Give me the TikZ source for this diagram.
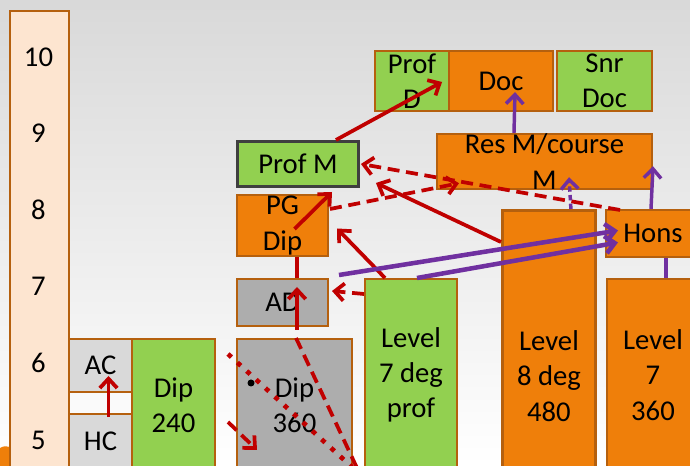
\documentclass[tikz,border=0pt]{standalone}
\usepackage{fontspec}
\setmainfont{Carlito}
\usepackage{xcolor}
\usetikzlibrary{arrows.meta,calc}
\definecolor{boxedge}{HTML}{B5600E}
\definecolor{boxorange}{HTML}{EF7F0A}
\definecolor{boxgreen}{HTML}{92D050}
\definecolor{boxgrey}{HTML}{ADADAD}
\definecolor{boxlight}{HTML}{D9D9D9}
\definecolor{boxpeach}{HTML}{FDE5D0}
\definecolor{darkedge}{HTML}{3F3F3F}
\definecolor{arrowred}{HTML}{C00000}
\definecolor{arrowpurple}{HTML}{7030A0}
\tikzset{
    box-text/.style = {inner sep=0pt, align=center, font=\fontsize{21.5}{26.5}\selectfont},
    base-box/.style = {box-text, draw=boxedge, line width=1.5pt, rectangle, anchor=north west},
    box-size/.style 2 args = {minimum width=#1*0.75pt, minimum height=#2*0.75pt},
    orange-box/.style = {base-box, fill=boxorange},
    green-box/.style = {base-box, fill=boxgreen},
    grey-box/.style = {base-box, fill=boxgrey},
    light-box/.style = {base-box, fill=boxlight},
    peach-box/.style = {base-box, fill=boxpeach},
    red-line/.style = {draw=arrowred, line width=2.8pt},
    red-arrow/.style = {red-line, -{Straight Barb[length=7pt,width=13pt]}},
    red-dash/.style = {red-line, dash pattern=on 9pt off 5pt},
    red-dash-arrow/.style = {red-dash, -{Straight Barb[length=7pt,width=13pt]}},
    red-dot/.style = {draw=arrowred, line width=3.5pt, dash pattern=on 3.5pt off 6pt},
    purple-line/.style = {draw=arrowpurple, line width=2.6pt},
    purple-arrow/.style = {purple-line, -{Straight Barb[length=7pt,width=13pt]}},
    purple-dash-arrow/.style = {purple-arrow, dash pattern=on 4pt off 2.5pt},
    purple-thick-arrow/.style = {purple-line, line width=3.4pt, -{Straight Barb[length=7pt,width=13pt]}},
}
\begin{document}
\begin{tikzpicture}[x=0.75pt, y=-0.75pt]
\useasboundingbox (0,0) rectangle (690,466);
\shade[top color=black!15, middle color=black!4, bottom color=white] (0,0) rectangle (690,466);
\fill[boxorange] (0,448) .. controls (4,446) .. (10,447) -- (10,466) -- (0,466) -- cycle;

% level scale
\node[peach-box, box-size={59}{460}] (scale) at (9,10) {};
\foreach \lv [count=\i] in {10,9,8,7,6,5}
    \node[box-text] (lvl-\lv) at (38.5, {57+(\i-1)*76.6}) {\lv};

% qualification boxes
\node[light-box, box-size={63}{53}] (ac) at (68,338) {AC};
\node[light-box, box-size={63}{55}] (hc) at (68,413) {HC};
\node[green-box, box-size={83}{132}] (dipa) at (131,338) {Dip\\240};
\node[grey-box, box-size={115}{132}] (dipb) at (236,338) {Dip\\360};
\node[grey-box, box-size={91}{47}] (ad) at (236,278) {AD};
\node[orange-box, box-size={91}{61}] (pgdip) at (236,194) {PG\\Dip};
\node[green-box, draw=darkedge, line width=2.2pt, box-size={121}{45}] (profm) at (236,140) {Prof M};
\node[green-box, box-size={74}{60}] (profd) at (374,50) {Prof\\D};
\node[orange-box, box-size={104}{60}] (doc) at (448,50) {Doc};
\node[green-box, box-size={95}{60}] (snrdoc) at (556,50) {Snr\\Doc};
\node[orange-box, box-size={215}{53}] (resm) at (436,133) {Res M/course\\M};
\node[green-box, box-size={92}{192}] (levseven) at (364,278) {Level\\7 deg\\prof};
\node[orange-box, line width=2.2pt, box-size={93}{261}] (leveight) at (501,209) {};
\node[box-text] (leveight-text) at ($(leveight.north)+(0,167)$) {Level\\8 deg\\480};
\node[orange-box, box-size={94}{47}] (hons) at (605,209) {Hons};
\node[orange-box, box-size={92}{192}] (levsevenb) at (606,278) {Level\\7\\360};

% red routes
\draw[red-arrow] ($(hc.north)+(8,4)$) -- ($(ac.south)+(8,-17)$);
\draw[red-arrow] ($(dipb.north)+(2.5,-8)$) -- ($(ad.north)+(14.5,9)$);
\draw[red-line] ($(ad.north)+(14.5,0)$) -- ($(pgdip.south)+(14.5,0)$);
\draw[red-arrow] ($(pgdip.center)+(12,3.5)$) -- ($(pgdip.north east)+(3,-2)$);
\draw[red-arrow] ($(profm.north east)+(-24,0)$) -- ($(profd.east)+(-8,1)$);
\draw[red-arrow] ($(leveight.north west)+(0,33)$) -- ($(profm.south east)+(16,-5)$);
\draw[red-arrow] ($(levseven.north west)+(21,0)$) -- ($(pgdip.east)+(8,3)$);
\draw[red-dash-arrow] ($(pgdip.north east)+(1,15)$) -- ($(resm.south west)+(23,-7)$);
\draw[red-dash-arrow] ($(hons.north west)+(15,1)$) -- ($(profm.east)+(1,0)$);
\draw[red-dash-arrow] ($(levseven.north west)+(0,16)$) -- ($(ad.east)+(3,-11.5)$);
\draw[red-dash-arrow] ($(dipb.north west)+(-8,84)$) -- ($(dipb.north west)+(21,112)$);
\draw[red-dash] ($(dipb.north)+(1.5,0)$) -- ($(levseven.south west)+(-7,-4)$);
\draw[red-dot] ($(dipb.north west)+(-8,16)$) -- ($(dipb.south east)+(0,-4)$);
\fill ($(dipb.north west)+(15,45)$) circle (3.5);

% purple routes
\draw[purple-arrow] ($(resm.north west)+(78,0)$) -- ($(doc.south)+(14,-20)$);
\draw[purple-dash-arrow] ($(leveight.north east)+(-26,0)$) -- ($(resm.south)+(24.5,-13)$);
\draw[purple-arrow] ($(hons.north west)+(46,0)$) -- ($(resm.south east)+(0,-24)$);
\draw[purple-line] ($(levsevenb.north west)+(60,0)$) -- ($(hons.south west)+(61,0)$);
\draw[purple-thick-arrow] ($(ad.north east)+(10,-3)$) -- ($(hons.west)+(13,-3)$);
\draw[purple-thick-arrow] ($(levseven.north)+(6,0)$) -- ($(hons.west)+(13,9)$);
\end{tikzpicture}
\end{document}
